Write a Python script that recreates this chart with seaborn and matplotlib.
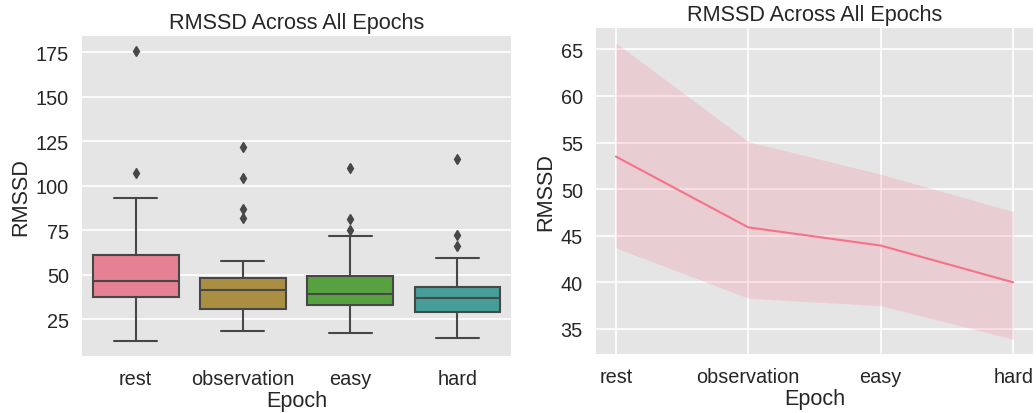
import matplotlib
matplotlib.use("Agg")
import matplotlib.pyplot as plt
import pandas as pd
import seaborn as sns

# RMSSD per subject for each task epoch
epochs = ["rest", "observation", "easy", "hard"]
rmssd_rest = [12.6, 21.5, 26.8, 30.2, 33.1, 35.6, 37.4, 39.0, 40.8, 42.3, 44.0, 45.5, 46.7,
              48.2, 50.1, 52.6, 55.0, 58.4, 61.3, 66.2, 72.5, 80.3, 93.2, 107.1, 176.0]
rmssd_observation = [18.7, 21.0, 24.5, 27.0, 29.0, 30.2, 31.1, 33.0, 35.2, 37.0, 38.8, 40.2, 41.5,
                     42.5, 43.8, 45.0, 46.2, 47.5, 48.4, 52.0, 57.8, 81.9, 86.9, 104.2, 121.6]
rmssd_easy = [17.2, 22.0, 25.5, 28.0, 30.5, 32.0, 32.8, 33.5, 34.6, 35.8, 36.9, 38.0, 39.1,
              40.5, 42.0, 44.0, 45.8, 47.6, 49.3, 55.0, 63.0, 72.1, 75.4, 81.4, 110.1]
rmssd_hard = [14.6, 19.0, 22.5, 25.0, 27.2, 28.5, 29.4, 30.5, 32.0, 33.6, 35.0, 36.1, 37.0,
              38.0, 39.2, 40.3, 41.5, 42.4, 43.2, 47.0, 53.5, 59.7, 66.0, 72.3, 115.3]

# Mean RMSSD across epochs with its 95% confidence interval
mean_rmssd = [53.5, 45.9, 43.95, 40.0]
ci_low = [43.7, 38.3, 37.5, 33.9]
ci_high = [65.7, 55.1, 51.6, 47.6]

df = pd.DataFrame({
    "Epoch": [e for e, vals in zip(epochs, [rmssd_rest, rmssd_observation, rmssd_easy, rmssd_hard])
              for _ in vals],
    "RMSSD": rmssd_rest + rmssd_observation + rmssd_easy + rmssd_hard,
})
df_mean = pd.DataFrame({"Epoch": epochs, "RMSSD": mean_rmssd})

sns.set_theme(style="darkgrid", context="notebook", font_scale=1.3, rc={
    "axes.facecolor": "#E5E5E5",
    "grid.color": "white",
    "grid.linewidth": 1.2,
    "text.color": "#262626",
    "axes.labelcolor": "#262626",
    "xtick.color": "#262626",
    "ytick.color": "#262626",
})
plt.rcParams["font.family"] = ["Liberation Sans", "DejaVu Sans"]

fig = plt.figure(figsize=(10.36, 4.14), dpi=100)
ax1 = fig.add_axes([0.0792, 0.1377, 0.4141, 0.773])
ax2 = fig.add_axes([0.5753, 0.1425, 0.4218, 0.7874])

palette = sns.color_palette("husl", 6)[:len(epochs)]
line_gray = "#474747"
sns.boxplot(data=df, x="Epoch", y="RMSSD", hue="Epoch", palette=palette, legend=False,
            ax=ax1, linecolor=line_gray, linewidth=1.5, saturation=0.75,
            flierprops=dict(marker="d", markerfacecolor=line_gray,
                            markeredgecolor=line_gray, markersize=5))
ax1.xaxis.grid(False)
ax1.set_title("RMSSD Across All Epochs")
ax1.set_yticks([25, 50, 75, 100, 125, 150, 175])

sns.lineplot(data=df_mean, x="Epoch", y="RMSSD", color=palette[0], linewidth=1.5, ax=ax2)
ax2.fill_between(range(len(epochs)), ci_low, ci_high, color=palette[0], alpha=0.2, linewidth=0)
ax2.set_title("RMSSD Across All Epochs")

for ax in (ax1, ax2):
    ax.set_xlabel("Epoch", labelpad=1)
    ax.set_ylabel("RMSSD", labelpad=3)
    for s in ax.spines.values():
        s.set_visible(False)

fig.savefig("out.png", dpi=100)
